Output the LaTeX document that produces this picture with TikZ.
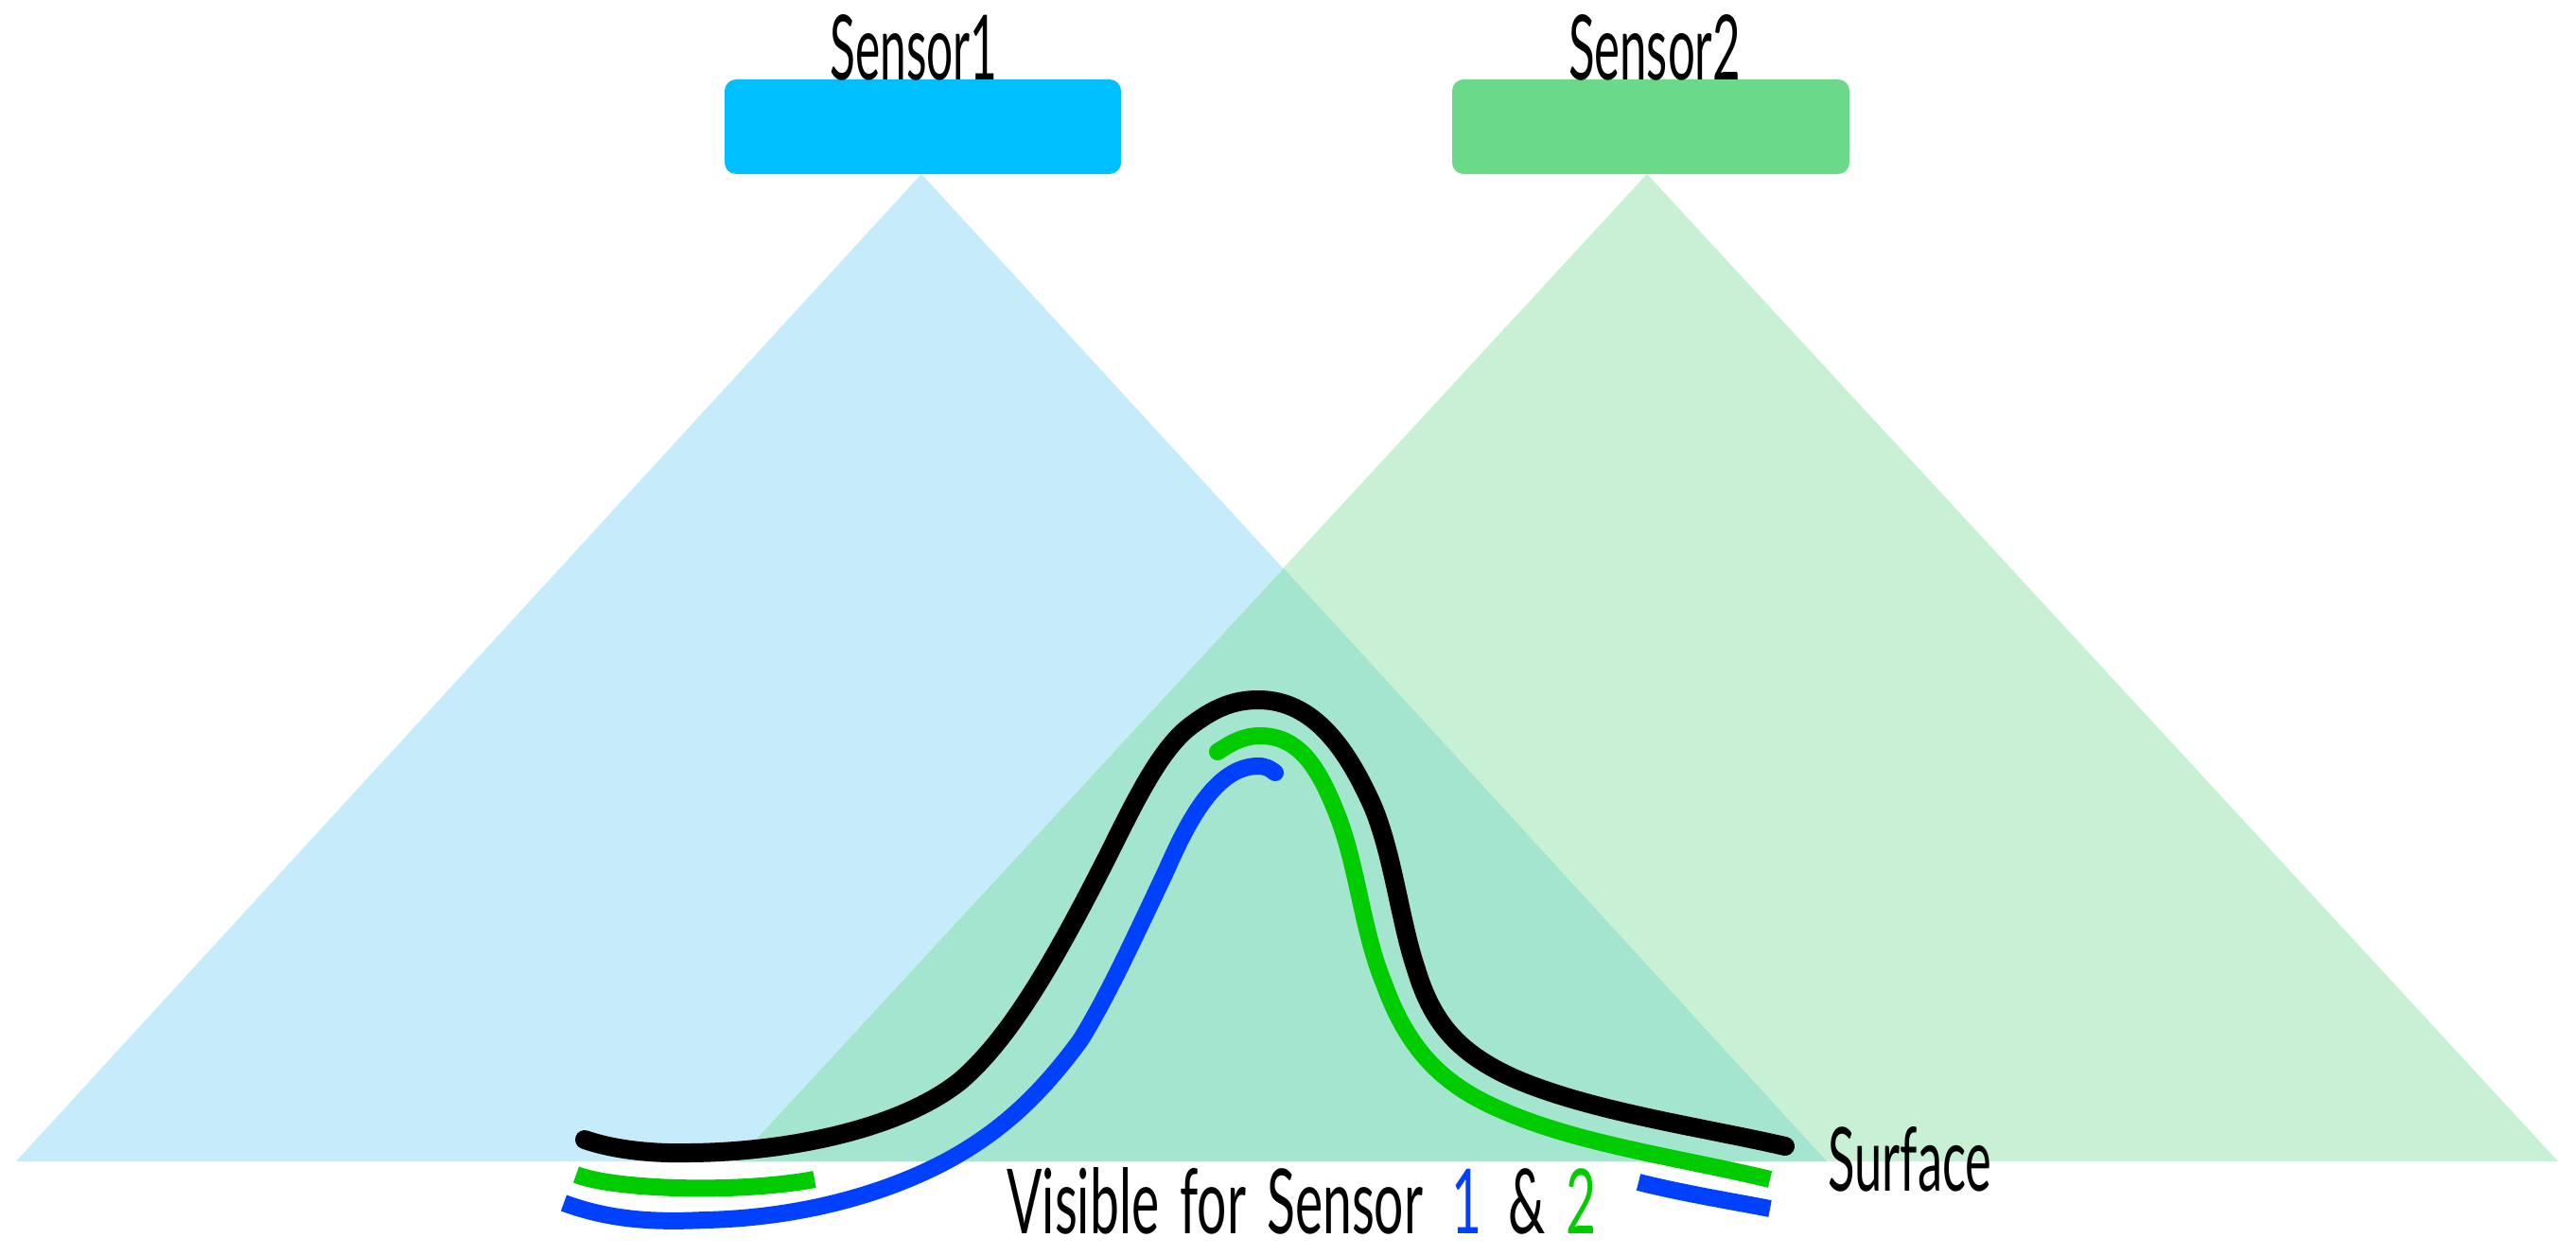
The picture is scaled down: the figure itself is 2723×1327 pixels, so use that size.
\documentclass[tikz,border=0pt]{standalone}
\usepackage{graphicx}
\usepackage{fontspec}
\setmainfont{Lato}
\definecolor{tblue}{HTML}{C6EBFB}
\definecolor{tgreen}{HTML}{C7F0D5}
\definecolor{tover}{HTML}{A4E5CF}
\definecolor{bblue}{HTML}{00BFFF}
\definecolor{bgreen}{HTML}{6BD98A}
\definecolor{lgreen}{HTML}{00CC00}
\definecolor{lblue}{HTML}{0040FF}
\newcommand{\lbl}[3]{\resizebox{#1pt}{#2pt}{\fontsize{80}{96}\selectfont #3}}
\tikzset{
  sensorbox/.style={rounded corners=12pt,draw=none},
  surfline/.style={line width=20pt,line cap=round,line join=round,black},
  gline/.style={line width=18pt,line join=round,lgreen},
  bline/.style={line width=18pt,line join=round,lblue},
  lab/.style={inner sep=0pt,outer sep=0pt,text=black}
}
\begin{document}
\begin{tikzpicture}[x=1pt,y=-1pt]
\useasboundingbox (0,0) rectangle (2723,1327);
\fill[white] (0,0) rectangle (2723,1327);
% fields of view
\coordinate (a1) at (974,184);
\coordinate (l1) at (17,1228);
\coordinate (r1) at (1931,1228);
\coordinate (a2) at (1741,184);
\coordinate (l2) at (778,1228);
\coordinate (r2) at (2704,1228);
\coordinate (ov) at (1357,601);
\fill[tblue] (a1) -- (l1) -- (r1) -- cycle;
\fill[tgreen] (a2) -- (l2) -- (r2) -- cycle;
\fill[tover] (ov) -- (l2) -- (r1) -- cycle;
% sensors
\fill[bblue,sensorbox] (766,84) rectangle (1185,184);
\fill[bgreen,sensorbox] (1535,84) rectangle (1955,184);
% surface
\draw[surfline] (618,1205) .. controls (650,1216) and (690,1220) .. (730,1219)
  .. controls (830,1218) and (950,1195) .. (1015,1143)
  .. controls (1065,1100) and (1110,1025) .. (1167,913)
  .. controls (1195,858) and (1225,790) .. (1262,765)
  .. controls (1285,748) and (1305,740) .. (1330,740)
  .. controls (1390,740) and (1425,795) .. (1450,850)
  .. controls (1472,900) and (1480,975) .. (1497,1025)
  .. controls (1515,1085) and (1545,1115) .. (1600,1140)
  .. controls (1680,1175) and (1800,1192) .. (1887,1212);
% sensor 2 visibility
\draw[gline] (1287,795) .. controls (1302,785) and (1315,778) .. (1332,778)
  .. controls (1375,778) and (1395,815) .. (1413,860)
  .. controls (1435,915) and (1440,985) .. (1463,1040)
  .. controls (1490,1115) and (1530,1150) .. (1590,1175)
  .. controls (1670,1210) and (1780,1225) .. (1871,1247);
\fill[lgreen] (1287,795) circle (9pt);
\draw[gline] (609,1242) .. controls (650,1258) and (780,1262) .. (861,1247);
% sensor 1 visibility
\draw[bline] (596,1272) .. controls (650,1292) and (700,1292) .. (745,1290)
  .. controls (840,1288) and (930,1265) .. (1000,1228)
  .. controls (1065,1193) and (1105,1150) .. (1142,1100)
  .. controls (1170,1055) and (1200,990) .. (1233,920)
  .. controls (1255,870) and (1285,810) .. (1330,810)
  .. controls (1338,810) and (1343,813) .. (1348,817);
\fill[lblue] (1348,817) circle (9pt);
\draw[bline] (1732,1250) .. controls (1780,1262) and (1830,1270) .. (1871,1278);
% labels
\node[lab] (s1) at (966,50) {\lbl{177}{69}{Sensor1}};
\node[lab] (s2) at (1749,50) {\lbl{182}{69}{Sensor2}};
\node[lab] (surf) at (2019,1226) {\lbl{173}{68}{Surface}};
\node[lab] (vis) at (1376,1270) {\lbl{623}{70}{Visible\hspace{.4em}for\hspace{.4em}Sensor\hspace{.55em}\textcolor{lblue}{1}\hspace{.5em}\&\hspace{.4em}\textcolor{lgreen}{2}}};
\end{tikzpicture}
\end{document}
